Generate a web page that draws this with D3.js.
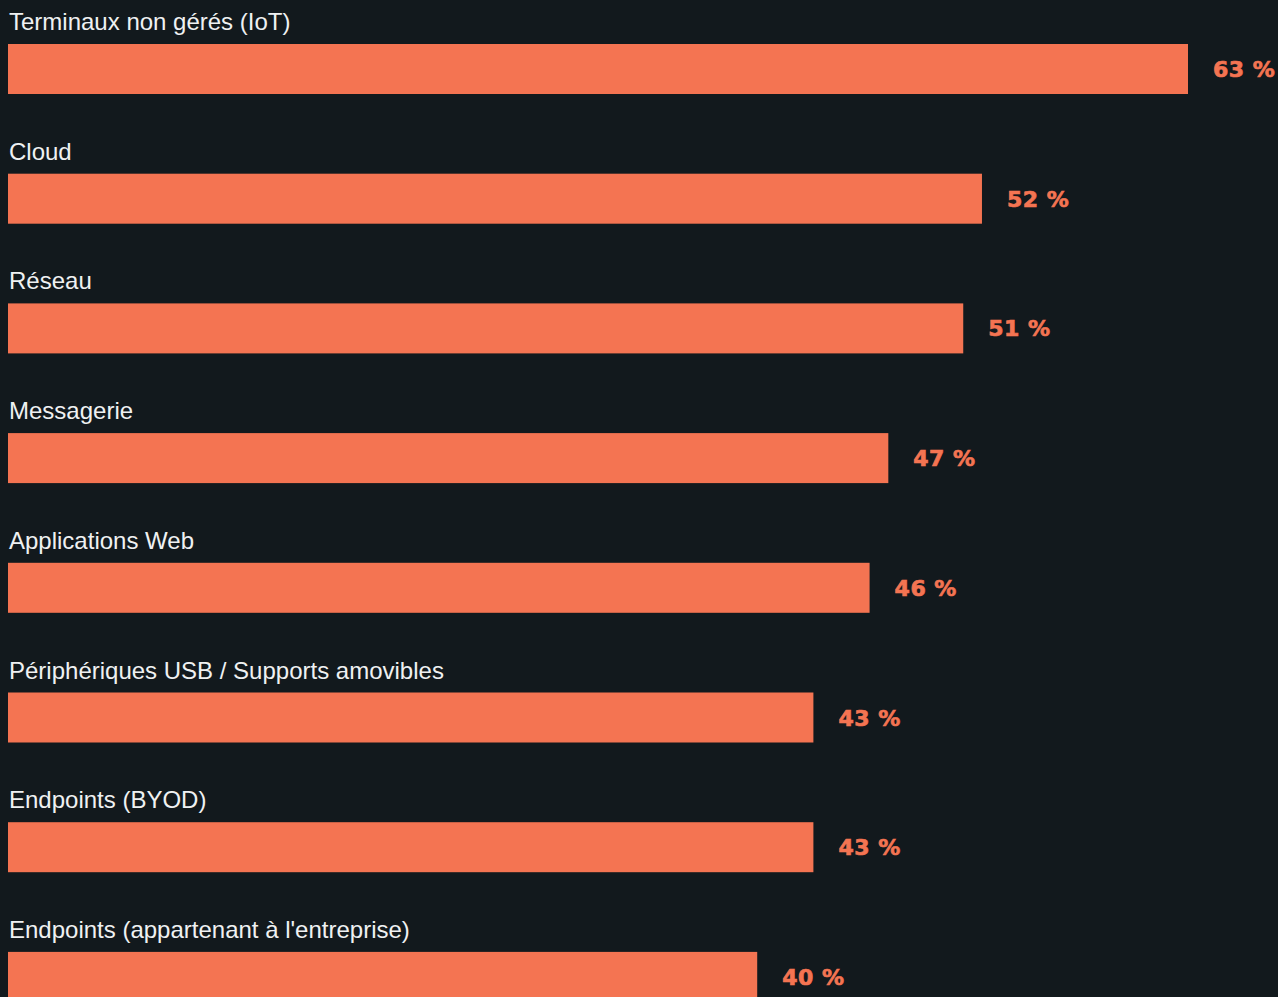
<!DOCTYPE html>
<html lang="fr">
<head>
<meta charset="utf-8">
<script src="https://cdn.jsdelivr.net/npm/d3@7"></script>
<style>
  html, body { margin: 0; padding: 0; background: #12191d; overflow: hidden; }
  svg { display: block; }
</style>
</head>
<body>
<svg id="chart" width="1278" height="997"></svg>
<script>
// Attack surfaces and share of respondents
const categories = [
  "Terminaux non gérés (IoT)",
  "Cloud",
  "Réseau",
  "Messagerie",
  "Applications Web",
  "Périphériques USB / Supports amovibles",
  "Endpoints (BYOD)",
  "Endpoints (appartenant à l'entreprise)"
];
const values = [63, 52, 51, 47, 46, 43, 43, 40];
const valueSuffix = " %";

const svg = d3.select("#chart");
const barColor = "#f47452";

const rowStep = 129.7, barH = 50;
const pad = (rowStep - barH) / rowStep;
const firstBarTop = 44;

const x = d3.scaleLinear().domain([0, 63]).range([8, 1188]);
const y = d3.scaleBand()
  .domain(categories)
  .range([firstBarTop, firstBarTop + rowStep * (categories.length - pad)])
  .paddingInner(pad)
  .paddingOuter(0);

const data = categories.map((c, i) => ({ cat: c, val: values[i] }));

const rows = svg.selectAll("g.row").data(data).join("g").attr("class", "row");

rows.append("rect")
  .attr("x", x(0))
  .attr("y", d => y(d.cat))
  .attr("width", d => x(d.val) - x(0))
  .attr("height", y.bandwidth())
  .attr("fill", barColor);

rows.append("text")
  .attr("x", 9)
  .attr("y", d => y(d.cat) - 14)
  .attr("fill", "#eff1f2")
  .style("font-family", "'Liberation Sans', Arial, sans-serif")
  .style("font-size", "24px")
  .text(d => d.cat);

rows.append("text")
  .attr("x", d => x(d.val) + 25)
  .attr("y", d => y(d.cat) + y.bandwidth() / 2 + 8)
  .attr("fill", barColor)
  .attr("stroke", barColor)
  .attr("stroke-width", 0.7)
  .style("font-family", "'DejaVu Sans', Verdana, sans-serif")
  .style("font-weight", "bold")
  .style("font-size", "22px")
  .style("letter-spacing", "0.5px")
  .text(d => d.val + valueSuffix);
</script>
</body>
</html>
